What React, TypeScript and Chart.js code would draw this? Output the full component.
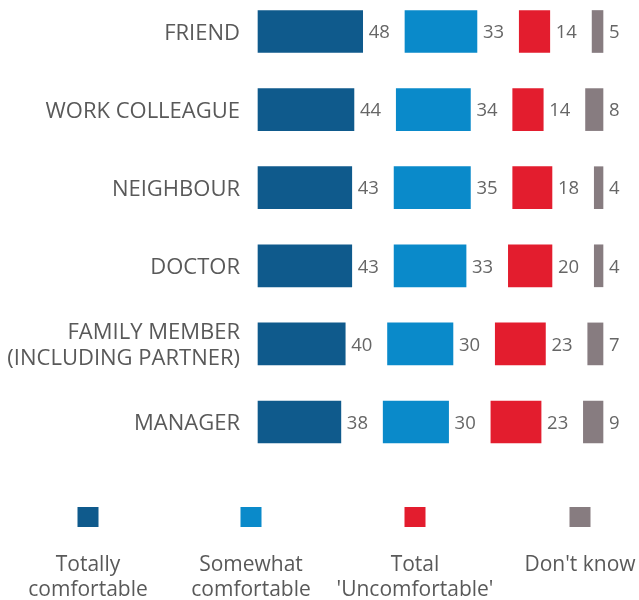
import React, { useEffect, useRef } from "react";
import { Chart, registerables } from "chart.js";

Chart.register(...registerables);

const CATEGORIES: (string | string[])[] = [
  "FRIEND",
  "WORK COLLEAGUE",
  "NEIGHBOUR",
  "DOCTOR",
  ["FAMILY MEMBER", "(INCLUDING PARTNER)"],
  "MANAGER",
];
const TOTALLY_COMFORTABLE = [48, 44, 43, 43, 40, 38];
const SOMEWHAT_COMFORTABLE = [33, 34, 35, 33, 30, 30];
const TOTAL_UNCOMFORTABLE = [14, 14, 18, 20, 23, 23];
const DONT_KNOW = [5, 8, 4, 4, 7, 9];

const SERIES_NAMES = [
  "Totally comfortable",
  "Somewhat comfortable",
  "Total 'Uncomfortable'",
  "Don't know",
];
const LEGEND_LINES = [
  ["Totally", "comfortable"],
  ["Somewhat", "comfortable"],
  ["Total", "'Uncomfortable'"],
  ["Don't know"],
];
const COLORS = ["#0F5A8C", "#0A8ACA", "#E31D2E", "#877C80"];
const GAP = 19.4;

const SERIES = [
  TOTALLY_COMFORTABLE,
  SOMEWHAT_COMFORTABLE,
  TOTAL_UNCOMFORTABLE,
  DONT_KNOW,
];

const FONT = '"Open Sans", "DejaVu Sans", sans-serif';

const valueLabels = {
  id: "valueLabels",
  afterDatasetsDraw(chart: any) {
    const ctx = chart.ctx;
    ctx.save();
    ctx.font = `18.5px ${FONT}`;
    ctx.fillStyle = "#666666";
    ctx.textAlign = "left";
    ctx.textBaseline = "middle";
    SERIES.forEach((vals, d) => {
      const meta = chart.getDatasetMeta(d);
      meta.data.forEach((el: any, i: number) => {
        const right = Math.max(el.x, el.base);
        ctx.fillText(String(vals[i]), right + 6, el.y + 1.5);
      });
    });
    ctx.restore();
  },
};

const bottomLegend = {
  id: "bottomLegend",
  afterDraw(chart: any) {
    const ctx = chart.ctx;
    ctx.save();
    const centers = [88, 251, 415, 580];
    LEGEND_LINES.forEach((lines, i) => {
      const cx = centers[i];
      ctx.fillStyle = COLORS[i];
      ctx.fillRect(cx - 10.5, 507, 21, 20);
      ctx.font = `21px ${FONT}`;
      ctx.fillStyle = "#595959";
      ctx.textAlign = "center";
      ctx.textBaseline = "middle";
      lines.forEach((t, j) => {
        ctx.fillText(t, cx, 565 + j * 25);
      });
    });
    ctx.restore();
  },
};

export default function App() {
  const ref = useRef<HTMLCanvasElement | null>(null);

  useEffect(() => {
    if (!ref.current) return;
    const datasets = SERIES.map((vals, s) => ({
      label: SERIES_NAMES[s],
      data: vals.map((v, i) => {
        let start = 0;
        for (let k = 0; k < s; k++) start += SERIES[k][i] + GAP;
        return [start, start + v];
      }),
      backgroundColor: COLORS[s],
      borderWidth: 0,
      grouped: false,
      barThickness: 42,
      clip: false as any,
    }));

    const chart = new Chart(ref.current, {
      type: "bar",
      data: { labels: CATEGORIES as any, datasets: datasets as any },
      plugins: [valueLabels, bottomLegend],
      options: {
        indexAxis: "y",
        animation: false,
        responsive: false,
        layout: { padding: { top: 31.5, bottom: 178, right: 36, left: 0 } },
        plugins: {
          legend: { display: false },
          tooltip: { enabled: false },
        },
        scales: {
          x: {
            display: false,
            min: 0,
            max: 100 + 3 * GAP,
          },
          y: {
            offset: false,
            grid: { display: false, drawTicks: false },
            border: { display: false },
            afterFit(scale: any) {
              scale.width = 258;
            },
            ticks: {
              padding: 18,
              color: "#595959",
              labelOffset: 2,
              font: { family: FONT, size: 22, lineHeight: 1.2 },
            },
          },
        },
      },
    });
    return () => chart.destroy();
  }, []);

  return (
    <div style={{ position: "absolute", left: 0, top: 0, width: 639, height: 600, background: "#fff" }}>
      <canvas ref={ref} width={639} height={600} />
    </div>
  );
}
